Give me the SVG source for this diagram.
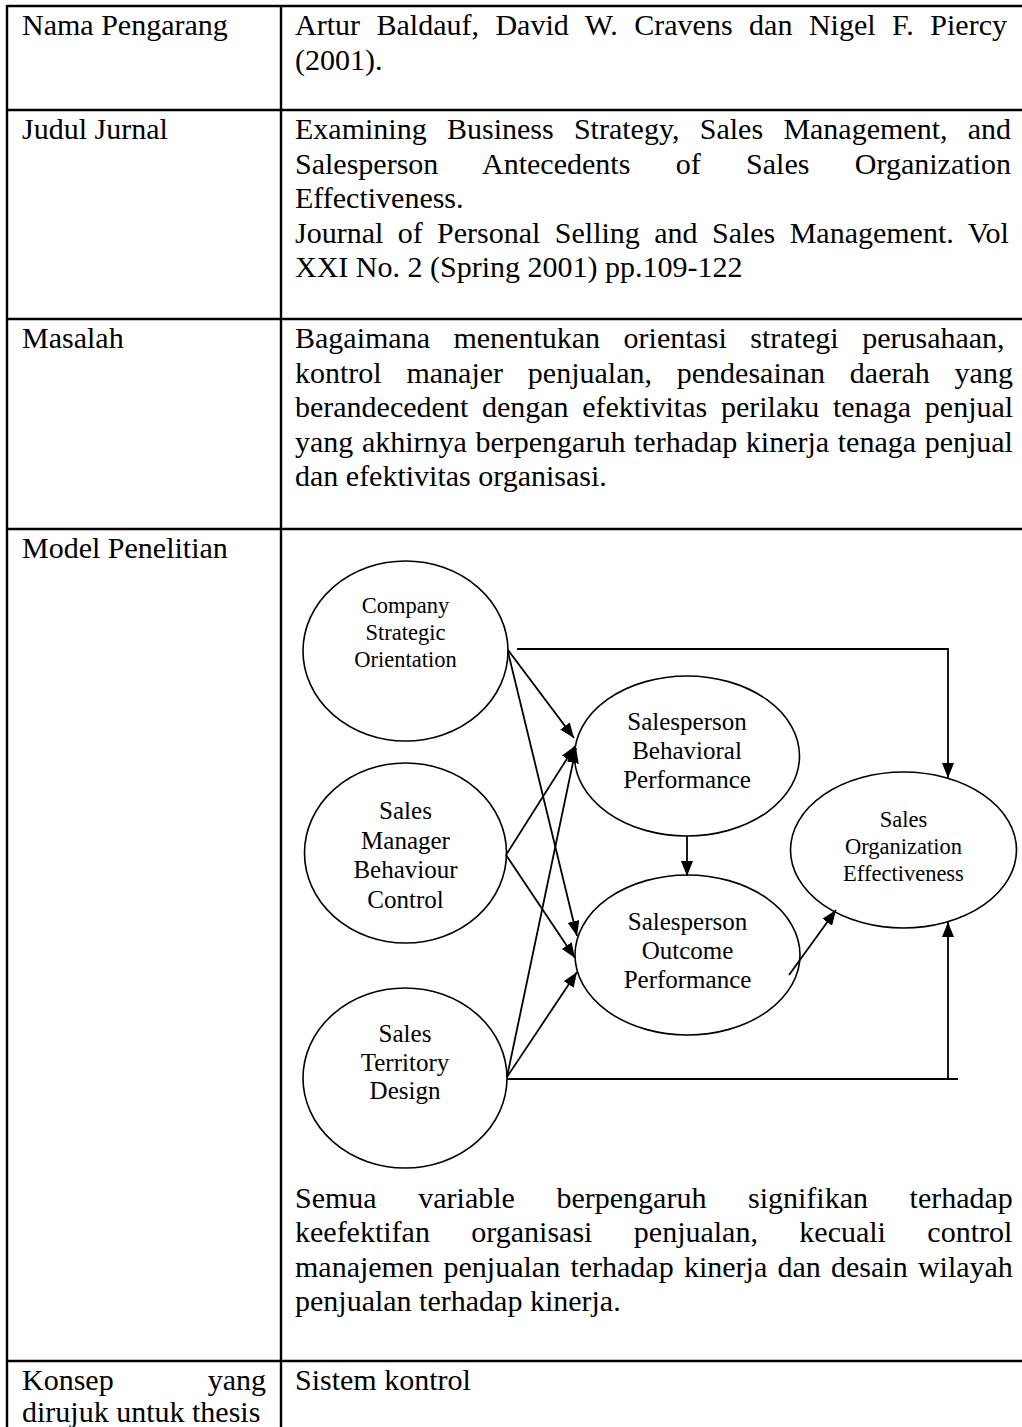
<svg xmlns="http://www.w3.org/2000/svg" width="1022" height="1427" viewBox="0 0 1022 1427">
  <style>
    .bg { fill: #ffffff; }
    .grid { stroke: #000000; stroke-width: 2.4; fill: none; }
    .cell { font-family: "Liberation Serif", "Times New Roman", serif; font-size: 30px; fill: #000000; }
    .node ellipse { fill: none; stroke: #000000; stroke-width: 1.6; }
    .lbl { font-family: "Liberation Serif", "Times New Roman", serif; font-size: 25px; fill: #000000; text-anchor: middle; }
    .lbl-s { font-family: "Liberation Serif", "Times New Roman", serif; font-size: 22.5px; fill: #000000; text-anchor: middle; }
    .edge { fill: none; stroke: #000000; stroke-width: 1.8; }
  </style>
  <defs>
    <marker id="arrow" markerWidth="15" markerHeight="12" refX="15" refY="6" orient="auto" markerUnits="userSpaceOnUse">
      <path d="M0,0 L15,6 L0,12 z" fill="#000000"/>
    </marker>
  </defs>

  <rect class="bg" x="0" y="0" width="1022" height="1427"/>

  <!-- table rules -->
  <g id="table">
    <line class="grid" x1="7" y1="6" x2="1022" y2="6"/>
    <line class="grid" x1="7" y1="110" x2="1022" y2="110"/>
    <line class="grid" x1="7" y1="319" x2="1022" y2="319"/>
    <line class="grid" x1="7" y1="529" x2="1022" y2="529"/>
    <line class="grid" x1="7" y1="1361" x2="1022" y2="1361"/>
    <line class="grid" x1="7" y1="5" x2="7" y2="1427"/>
    <line class="grid" x1="281" y1="5" x2="281" y2="1427"/>
  </g>

  <!-- row labels -->
  <g id="labels" class="cell">
    <text x="22" y="35">Nama Pengarang</text>
    <text x="22" y="139">Judul Jurnal</text>
    <text x="22" y="348">Masalah</text>
    <text x="22" y="558">Model Penelitian</text>
    <text x="22" y="1390" word-spacing="86.5">Konsep yang</text>
    <text x="22" y="1422">dirujuk untuk thesis</text>
  </g>

  <!-- cell contents -->
  <g id="contents" class="cell">
    <text x="295" y="35" word-spacing="9">Artur Baldauf, David W. Cravens dan Nigel F. Piercy</text>
    <text x="295" y="69.5">(2001).</text>

    <text x="295" y="139" word-spacing="12.8">Examining Business Strategy, Sales Management, and</text>
    <text x="295" y="173.5" word-spacing="37.9">Salesperson Antecedents of Sales Organization</text>
    <text x="295" y="208">Effectiveness.</text>
    <text x="295" y="242.5" word-spacing="6.9">Journal of Personal Selling and Sales Management. Vol</text>
    <text x="295" y="277">XXI No. 2 (Spring 2001) pp.109-122</text>

    <text x="295" y="348" word-spacing="16">Bagaimana menentukan orientasi strategi perusahaan,</text>
    <text x="295" y="382.5" word-spacing="17.3">kontrol manajer penjualan, pendesainan daerah yang</text>
    <text x="295" y="417" word-spacing="6.2">berandecedent dengan efektivitas perilaku tenaga penjual</text>
    <text x="295" y="451.5" word-spacing="1.1">yang akhirnya berpengaruh terhadap kinerja tenaga penjual</text>
    <text x="295" y="486">dan efektivitas organisasi.</text>

    <text x="295" y="1207.5" word-spacing="34.1">Semua variable berpengaruh signifikan terhadap</text>
    <text x="295" y="1242" word-spacing="33.9">keefektifan organisasi penjualan, kecuali control</text>
    <text x="295" y="1276.5" word-spacing="2.75">manajemen penjualan terhadap kinerja dan desain wilayah</text>
    <text x="295" y="1311">penjualan terhadap kinerja.</text>

    <text x="295" y="1390">Sistem kontrol</text>
  </g>

  <!-- research model: variables -->
  <g id="node-cso" class="node">
    <ellipse cx="405.5" cy="651" rx="102.5" ry="90"/>
    <text class="lbl-s" x="405.5" y="613">Company</text>
    <text class="lbl-s" x="405.5" y="640">Strategic</text>
    <text class="lbl-s" x="405.5" y="667">Orientation</text>
  </g>
  <g id="node-smbc" class="node">
    <ellipse cx="405.5" cy="853" rx="101" ry="90"/>
    <text class="lbl" x="405.5" y="819">Sales</text>
    <text class="lbl" x="405.5" y="848.5">Manager</text>
    <text class="lbl" x="405.5" y="878">Behaviour</text>
    <text class="lbl" x="405.5" y="907.5">Control</text>
  </g>
  <g id="node-std" class="node">
    <ellipse cx="405" cy="1078" rx="102" ry="90"/>
    <text class="lbl" x="405" y="1042">Sales</text>
    <text class="lbl" x="405" y="1070.5">Territory</text>
    <text class="lbl" x="405" y="1099">Design</text>
  </g>
  <g id="node-sbp" class="node">
    <ellipse cx="687" cy="756" rx="112.5" ry="80"/>
    <text class="lbl" x="687" y="730">Salesperson</text>
    <text class="lbl" x="687" y="759">Behavioral</text>
    <text class="lbl" x="687" y="788">Performance</text>
  </g>
  <g id="node-sop" class="node">
    <ellipse cx="687.5" cy="955" rx="112.5" ry="80"/>
    <text class="lbl" x="687.5" y="930">Salesperson</text>
    <text class="lbl" x="687.5" y="959">Outcome</text>
    <text class="lbl" x="687.5" y="987.5">Performance</text>
  </g>
  <g id="node-soe" class="node">
    <ellipse cx="903.5" cy="850" rx="113" ry="78"/>
    <text class="lbl-s" x="903.5" y="827">Sales</text>
    <text class="lbl-s" x="903.5" y="854">Organization</text>
    <text class="lbl-s" x="903.5" y="881">Effectiveness</text>
  </g>

  <!-- research model: paths -->
  <g id="connectors">
    <polyline class="edge" points="517,649 948,649 948,778" marker-end="url(#arrow)"/>
    <line class="edge" x1="508" y1="650" x2="574" y2="738" marker-end="url(#arrow)"/>
    <line class="edge" x1="508" y1="652" x2="577" y2="936" marker-end="url(#arrow)"/>
    <line class="edge" x1="506" y1="855" x2="575" y2="746" marker-end="url(#arrow)"/>
    <line class="edge" x1="506" y1="855" x2="575" y2="958" marker-end="url(#arrow)"/>
    <line class="edge" x1="507" y1="1077" x2="576" y2="748" marker-end="url(#arrow)"/>
    <line class="edge" x1="507" y1="1077" x2="577" y2="972" marker-end="url(#arrow)"/>
    <line class="edge" x1="687" y1="836" x2="687" y2="876" marker-end="url(#arrow)"/>
    <line class="edge" x1="789" y1="975" x2="836" y2="910" marker-end="url(#arrow)"/>
    <line class="edge" x1="507" y1="1079" x2="958" y2="1079"/>
    <line class="edge" x1="948" y1="1079" x2="948" y2="922" marker-end="url(#arrow)"/>
  </g>
</svg>
